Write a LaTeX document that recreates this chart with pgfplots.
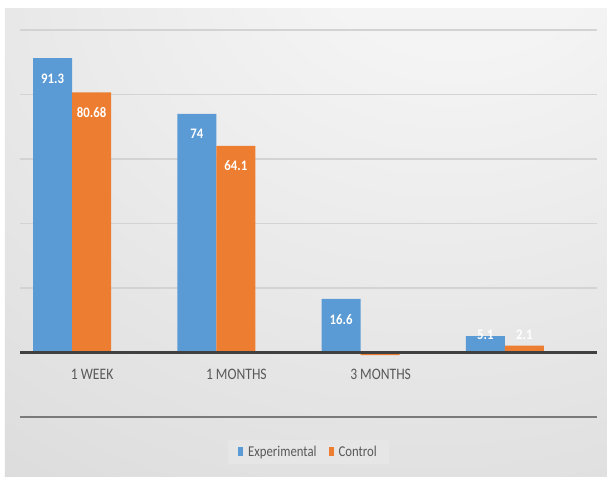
\documentclass[border=0pt]{standalone}
\usepackage{fontspec}
\setmainfont{Carlito}[FakeStretch=0.85]
\newfontfamily\lblfont{Carlito}[FakeStretch=0.88]
\usepackage{pgfplots}
\usepackage{pgfplotstable}
\pgfplotsset{compat=1.18}
\definecolor{cblue}{HTML}{5B9BD5}
\definecolor{corange}{HTML}{ED7D31}
\definecolor{gridc}{HTML}{D3D3D3}
\definecolor{axisc}{HTML}{404040}
\definecolor{lowc}{HTML}{7A7A7A}
\definecolor{txtc}{HTML}{595959}
\definecolor{legc}{HTML}{E6E6E6}
\definecolor{bgA}{HTML}{F4F4F4}
\definecolor{bgB}{HTML}{E0E0E0}
\definecolor{bgC}{HTML}{C8C8C8}
\pgfdeclareradialshading{bgshade}{\pgfpoint{14bp}{36bp}}{color(0bp)=(bgA); color(12bp)=(bgA); color(50bp)=(bgB); color(90bp)=(bgC); color(130bp)=(bgC)}

\pgfplotstableread{
x y lab
0 91.3 91.3
1 74 74
2 16.6 16.6
3 5.1 5.1
}\exptable
\pgfplotstableread{
x y lab
0 80.68 80.68
1 64.1 64.1
2 -0.8 {}
3 2.1 2.1
}\ctrltable

\pgfplotsset{
  barlabels/.style={
    point meta=explicit symbolic,
    visualization depends on={\thisrow{y} \as \rawy},
    nodes near coords,
    every node near coord/.append style={anchor=center, text=white,
      font=\lblfont\bfseries\fontsize{14.5}{16}\selectfont,
      xshift=#1,
      yshift={(max(\rawy-6.3,5.6)-\rawy)*3.225pt}},
  }
}

\begin{document}
\begin{tikzpicture}
\fill[white] (-20pt,-59pt) rectangle (587pt,417pt);
\shade[shading=bgshade] (-15pt,-59pt) rectangle (587pt,408pt);
\begin{axis}[
  scale only axis,
  width=577pt, height=387pt,
  xmin=-0.5, xmax=3.5,
  ymin=-20, ymax=100,
  axis line style={draw=none},
  major tick length=0pt,
  xtick={0,1,2},
  xticklabels={1 WEEK,1 MONTHS,3 MONTHS},
  xticklabel style={anchor=center, yshift=43pt, text=txtc, font=\fontsize{16}{18}\selectfont},
  ytick={0,20,...,100},
  yticklabels={},
  ymajorgrids,
  grid style={line width=1.2pt, gridc},
  extra y ticks={-20},
  extra y tick labels={},
  extra y tick style={grid style={line width=1.5pt, lowc}},
  legend columns=2,
  legend style={at={(0.5,-0.09)}, anchor=center, draw=none, fill=legc,
    font=\fontsize{15}{18}\selectfont, text=txtc,
    inner xsep=10pt, inner ysep=4pt,
    /tikz/every even column/.append style={column sep=10pt}},
  legend image code/.code={\fill[#1] (0pt,-4.5pt) rectangle (5pt,4.5pt); \path (8pt,0pt);},
]
\addplot[ybar, bar width=39pt, bar shift=-39.5pt, fill=cblue, draw=none, barlabels=-39.5pt]
  table[x=x, y=y, meta=lab] {\exptable};
\addlegendentry{Experimental}
\addplot[ybar, bar width=39pt, bar shift=-0.5pt, fill=corange, draw=none, barlabels=-0.5pt]
  table[x=x, y=y, meta=lab] {\ctrltable};
\addlegendentry{Control}
\addplot[axisc, line width=2.5pt, forget plot] coordinates {(-0.5,0) (3.5,0)};
\end{axis}
\pgfresetboundingbox
\useasboundingbox (-20pt,-59pt) rectangle (587pt,417pt);
\end{tikzpicture}
\end{document}
